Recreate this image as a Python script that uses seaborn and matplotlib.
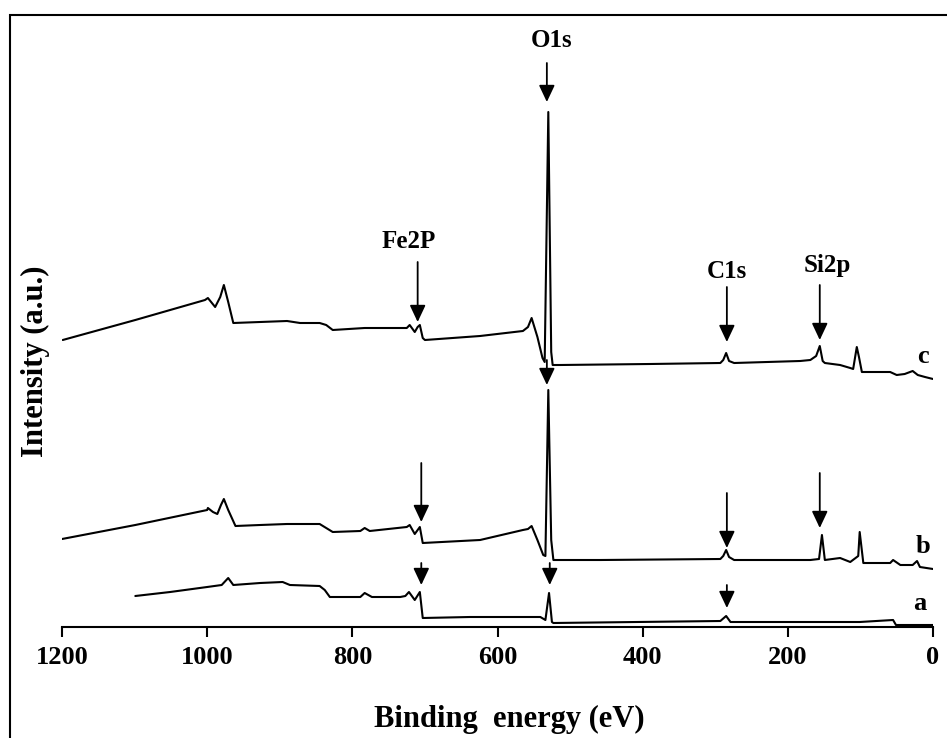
import numpy as np
import pandas as pd
import matplotlib
matplotlib.use("Agg")
import matplotlib.pyplot as plt
from matplotlib.patches import Rectangle
import seaborn as sns

# survey spectra (energy in eV, intensity in arbitrary units with offsets)
energy_c = [1199, 1099, 1003, 999, 989, 982, 977, 971, 964, 927, 890, 872, 845, 836, 827,
            783, 725, 721, 716, 714, 710, 707, 703, 700, 624, 565, 558, 553, 545, 538,
            535, 530, 526, 524, 514, 390, 293, 289, 285, 281, 274, 183, 169, 161, 156,
            152, 149, 128, 114, 110, 105, 102, 98, 59, 50, 39, 28, 21, 11, 0]
intens_c = [287, 307, 327, 329, 320, 330, 342, 325, 304, 305, 306, 304, 304, 302, 297,
            299, 299, 302, 297, 295, 300, 302, 289, 287, 291, 296, 300, 309, 290, 269,
            265, 515, 275, 262, 262, 263, 264, 267, 274, 266, 264, 266, 267, 271, 281,
            266, 264, 262, 259, 258, 280, 270, 255, 255, 252, 253, 256, 252, 250, 248]

energy_b = [1200, 1099, 1000, 999, 992, 986, 981, 977, 971, 961, 927, 890, 845, 836, 827,
            789, 783, 776, 725, 721, 714, 707, 703, 624, 565, 558, 553, 545, 537, 534,
            530, 526, 523, 458, 293, 289, 285, 281, 274, 169, 157, 153, 149, 128, 114,
            103, 101, 96, 59, 55, 45, 28, 22, 18, 0]
intens_b = [88, 102, 117, 119, 115, 113, 122, 128, 117, 101, 102, 103, 103, 99, 95,
            96, 99, 96, 100, 102, 93, 100, 84, 87, 97, 98, 101, 87, 72, 71,
            237, 87, 67, 67, 68, 71, 77, 70, 67, 67, 68, 92, 67, 69, 65,
            71, 95, 64, 64, 67, 62, 62, 66, 60, 58]

energy_a = [1099, 1051, 1000, 980, 971, 964, 927, 896, 886, 845, 838, 831, 789, 783, 773,
            734, 727, 722, 718, 714, 707, 703, 638, 541, 534, 529, 525, 523, 293, 285,
            279, 101, 55, 51, 0]
intens_a = [31, 35, 40, 42, 49, 42, 44, 45, 42, 41, 37, 30, 30, 34, 30,
            30, 31, 35, 31, 27, 35, 9, 10, 10, 7, 34, 5, 4, 6, 11,
            5, 5, 7, 2, 2]

# peak markers: energy, arrow tail, arrow tip
arrow_energy = [710, 532, 284, 156, 705, 532, 284, 156, 705, 528, 284]
arrow_tail = [365, 564, 340, 342, 164, 267, 134, 154, 64, 64, 42]
arrow_tip = [305, 525, 285, 287, 105, 242, 79, 99, 42, 42, 19]

peak_names = ["Fe2P", "O1s", "C1s", "Si2p"]
peak_x = [723, 526, 284, 146]
peak_y = [379, 580, 349, 355]

sample_names = ["c", "b", "a"]
sample_x = [14, 14, 18]
sample_y = [264, 74, 17]

ticks = [1200, 1000, 800, 600, 400, 200, 0]

df = pd.concat([
    pd.DataFrame({"energy": energy_c, "intensity": intens_c, "sample": "c"}),
    pd.DataFrame({"energy": energy_b, "intensity": intens_b, "sample": "b"}),
    pd.DataFrame({"energy": energy_a, "intensity": intens_a, "sample": "a"}),
])

sns.set_theme(style="white")
plt.rcParams["font.family"] = ["Liberation Serif", "DejaVu Serif"]
plt.rcParams["font.weight"] = "bold"
plt.rcParams["text.color"] = "black"
plt.rcParams["axes.labelcolor"] = "black"
plt.rcParams["xtick.color"] = "black"

fig = plt.figure(figsize=(9.47, 7.38), dpi=100)
ax = fig.add_axes([62 / 947, 111 / 738, 871 / 947, 607 / 738])

sns.lineplot(data=df, x="energy", y="intensity", hue="sample", units="sample",
             estimator=None, palette=["black"] * 3, linewidth=1.5, legend=False,
             sort=False, ax=ax)

for xe, yt, yh in zip(arrow_energy, arrow_tail, arrow_tip):
    ax.annotate("", xy=(xe, yh), xytext=(xe, yt),
                arrowprops=dict(arrowstyle="-|>,head_width=0.4,head_length=0.85",
                                color="black", lw=1.3, shrinkA=0, shrinkB=0))

for name, xe, ye in zip(peak_names, peak_x, peak_y):
    ax.text(xe, ye, name, ha="center", va="baseline", fontsize=18, fontweight="bold")

for name, xe, ye in zip(sample_names, sample_x, sample_y):
    ax.text(xe, ye, name, ha="center", va="baseline", fontsize=19, fontweight="bold")

ax.set_xlim(1200, 0)
ax.set_ylim(0, 607)
ax.set_xticks(ticks)
ax.set_xticklabels([str(t) for t in ticks], fontsize=19, fontweight="bold")
ax.set_yticks([])
ax.tick_params(axis="x", direction="out", length=7, width=1.5, pad=7, bottom=True, color="black")
sns.despine(ax=ax, left=True)
ax.spines["bottom"].set_linewidth(1.5)
ax.spines["bottom"].set_color("black")

ax.set_xlabel("Binding  energy (eV)", fontsize=22, fontweight="bold", va="baseline")
ax.xaxis.set_label_coords(0.513, -0.165)
ax.set_ylabel("Intensity (a.u.)", fontsize=22, fontweight="bold", va="center")
ax.yaxis.set_label_coords(-0.030, 0.438)

fig.patches.append(Rectangle((10 / 947, -0.05), 1.0, 723 / 738 + 0.05,
                             transform=fig.transFigure, fill=False, lw=1.5, ec="black"))

fig.savefig("out.png", dpi=100)
